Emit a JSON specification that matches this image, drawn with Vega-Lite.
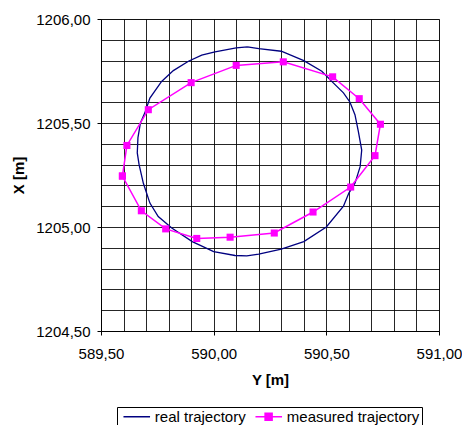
{
  "$schema": "https://vega.github.io/schema/vega-lite/v6.json",
  "width": 338,
  "height": 312,
  "autosize": {"type": "none"},
  "padding": {"left": 101, "top": 19, "right": 23, "bottom": 94},
  "background": "white",
  "config": {
    "font": "Liberation Sans",
    "view": {"stroke": "#808080", "strokeWidth": 1}
  },
  "data": {
    "values": [
      {"series": "measured trajectory", "order": 1, "Y": 589.595, "X": 1205.245},
      {"series": "measured trajectory", "order": 2, "Y": 589.615, "X": 1205.392},
      {"series": "measured trajectory", "order": 3, "Y": 589.71, "X": 1205.564},
      {"series": "measured trajectory", "order": 4, "Y": 589.9, "X": 1205.694},
      {"series": "measured trajectory", "order": 5, "Y": 590.1, "X": 1205.777},
      {"series": "measured trajectory", "order": 6, "Y": 590.309, "X": 1205.794},
      {"series": "measured trajectory", "order": 7, "Y": 590.528, "X": 1205.722},
      {"series": "measured trajectory", "order": 8, "Y": 590.646, "X": 1205.617},
      {"series": "measured trajectory", "order": 9, "Y": 590.74, "X": 1205.494},
      {"series": "measured trajectory", "order": 10, "Y": 590.716, "X": 1205.343},
      {"series": "measured trajectory", "order": 11, "Y": 590.608, "X": 1205.192},
      {"series": "measured trajectory", "order": 12, "Y": 590.441, "X": 1205.072},
      {"series": "measured trajectory", "order": 13, "Y": 590.269, "X": 1204.971},
      {"series": "measured trajectory", "order": 14, "Y": 590.073, "X": 1204.951},
      {"series": "measured trajectory", "order": 15, "Y": 589.925, "X": 1204.945},
      {"series": "measured trajectory", "order": 16, "Y": 589.787, "X": 1204.991},
      {"series": "measured trajectory", "order": 17, "Y": 589.679, "X": 1205.078},
      {"series": "measured trajectory", "order": 18, "Y": 589.595, "X": 1205.245},
      {"series": "real trajectory", "order": 1, "Y": 590.15, "X": 1205.866},
      {"series": "real trajectory", "order": 2, "Y": 590.2, "X": 1205.858},
      {"series": "real trajectory", "order": 3, "Y": 590.3, "X": 1205.845},
      {"series": "real trajectory", "order": 4, "Y": 590.4, "X": 1205.8},
      {"series": "real trajectory", "order": 5, "Y": 590.48, "X": 1205.749},
      {"series": "real trajectory", "order": 6, "Y": 590.524, "X": 1205.7},
      {"series": "real trajectory", "order": 7, "Y": 590.576, "X": 1205.645},
      {"series": "real trajectory", "order": 8, "Y": 590.605, "X": 1205.6},
      {"series": "real trajectory", "order": 9, "Y": 590.627, "X": 1205.54},
      {"series": "real trajectory", "order": 10, "Y": 590.642, "X": 1205.46},
      {"series": "real trajectory", "order": 11, "Y": 590.657, "X": 1205.37},
      {"series": "real trajectory", "order": 12, "Y": 590.65, "X": 1205.29},
      {"series": "real trajectory", "order": 13, "Y": 590.627, "X": 1205.21},
      {"series": "real trajectory", "order": 14, "Y": 590.6, "X": 1205.163},
      {"series": "real trajectory", "order": 15, "Y": 590.576, "X": 1205.1},
      {"series": "real trajectory", "order": 16, "Y": 590.5, "X": 1205.0},
      {"series": "real trajectory", "order": 17, "Y": 590.4, "X": 1204.93},
      {"series": "real trajectory", "order": 18, "Y": 590.3, "X": 1204.894},
      {"series": "real trajectory", "order": 19, "Y": 590.2, "X": 1204.87},
      {"series": "real trajectory", "order": 20, "Y": 590.147, "X": 1204.861},
      {"series": "real trajectory", "order": 21, "Y": 590.095, "X": 1204.863},
      {"series": "real trajectory", "order": 22, "Y": 590.0, "X": 1204.882},
      {"series": "real trajectory", "order": 23, "Y": 589.905, "X": 1204.93},
      {"series": "real trajectory", "order": 24, "Y": 589.814, "X": 1204.995},
      {"series": "real trajectory", "order": 25, "Y": 589.754, "X": 1205.05},
      {"series": "real trajectory", "order": 26, "Y": 589.717, "X": 1205.115},
      {"series": "real trajectory", "order": 27, "Y": 589.688, "X": 1205.21},
      {"series": "real trajectory", "order": 28, "Y": 589.669, "X": 1205.3},
      {"series": "real trajectory", "order": 29, "Y": 589.661, "X": 1205.356},
      {"series": "real trajectory", "order": 30, "Y": 589.664, "X": 1205.43},
      {"series": "real trajectory", "order": 31, "Y": 589.675, "X": 1205.5},
      {"series": "real trajectory", "order": 32, "Y": 589.695, "X": 1205.55},
      {"series": "real trajectory", "order": 33, "Y": 589.717, "X": 1205.62},
      {"series": "real trajectory", "order": 34, "Y": 589.769, "X": 1205.7},
      {"series": "real trajectory", "order": 35, "Y": 589.821, "X": 1205.752},
      {"series": "real trajectory", "order": 36, "Y": 589.888, "X": 1205.797},
      {"series": "real trajectory", "order": 37, "Y": 589.947, "X": 1205.826},
      {"series": "real trajectory", "order": 38, "Y": 590.006, "X": 1205.842},
      {"series": "real trajectory", "order": 39, "Y": 590.1, "X": 1205.861},
      {"series": "real trajectory", "order": 40, "Y": 590.15, "X": 1205.866}
    ]
  },
  "encoding": {
    "x": {
      "field": "Y", "type": "quantitative",
      "scale": {"domain": [589.5, 591.0], "nice": false, "zero": false},
      "axis": {
        "title": "Y [m]",
        "values": [589.5, 589.6, 589.7, 589.8, 589.9, 590.0, 590.1, 590.2, 590.3, 590.4, 590.5, 590.6, 590.7, 590.8, 590.9, 591.0],
        "labelExpr": "round(datum.value*10) % 5 == 0 ? replace(format(datum.value, '.2f'), '.', ',') : ''",
        "labelOverlap": false,
        "labelFlush": false,
        "labelFontSize": 15,
        "labelColor": "#000000",
        "labelPadding": 11,
        "tickSize": 4,
        "tickColor": "#000000",
        "tickOpacity": {"condition": {"test": "round(datum.value*10) % 5 == 0", "value": 1}, "value": 0},
        "domainColor": "#000000",
        "grid": true,
        "gridColor": "#000000",
        "gridOpacity": 0.85,
        "titleFontSize": 15,
        "titleFontWeight": "bold",
        "titleColor": "#000000",
        "titlePadding": 11
      }
    },
    "y": {
      "field": "X", "type": "quantitative",
      "scale": {"domain": [1204.5, 1206.0], "nice": false, "zero": false},
      "axis": {
        "title": "X [m]",
        "values": [1204.5, 1204.6, 1204.7, 1204.8, 1204.9, 1205.0, 1205.1, 1205.2, 1205.3, 1205.4, 1205.5, 1205.6, 1205.7, 1205.8, 1205.9, 1206.0],
        "labelExpr": "round(datum.value*10) % 5 == 0 ? replace(format(datum.value, '.2f'), '.', ',') : ''",
        "labelOverlap": false,
        "labelFlush": false,
        "labelFontSize": 15,
        "labelColor": "#000000",
        "labelPadding": 7,
        "tickSize": 4,
        "tickColor": "#000000",
        "tickOpacity": {"condition": {"test": "round(datum.value*10) % 5 == 0", "value": 1}, "value": 0},
        "domainColor": "#000000",
        "grid": true,
        "gridColor": "#000000",
        "gridOpacity": 0.85,
        "titleFontSize": 15,
        "titleFontWeight": "bold",
        "titleColor": "#000000",
        "titlePadding": 9
      }
    }
  },
  "layer": [
    {
      "transform": [{"filter": "datum.series == 'real trajectory'"}],
      "mark": {"type": "line", "color": "#000080", "strokeWidth": 1.3},
      "encoding": {"order": {"field": "order", "type": "quantitative"}}
    },
    {
      "transform": [{"filter": "datum.series == 'measured trajectory'"}],
      "mark": {"type": "line", "color": "#FF00FF", "strokeWidth": 1.5},
      "encoding": {"order": {"field": "order", "type": "quantitative"}}
    },
    {
      "transform": [{"filter": "datum.series == 'measured trajectory'"}],
      "mark": {"type": "point", "shape": "square", "filled": true, "color": "#FF00FF", "size": 50, "opacity": 1}
    },
    {
      "mark": {"type": "point", "filled": false, "opacity": 0, "strokeWidth": 1.5},
      "encoding": {
        "color": {
          "field": "series", "type": "nominal",
          "scale": {"domain": ["real trajectory", "measured trajectory"], "range": ["#000080", "#FF00FF"]},
          "legend": {
            "title": null,
            "orient": "none",
            "legendX": 16,
            "legendY": 388,
            "direction": "horizontal",
            "strokeColor": "#000000",
            "padding": 2,
            "labelFontSize": 15,
            "labelColor": "#000000",
            "labelOffset": 20.8,
            "columnPadding": 5,
            "symbolSize": 182,
            "symbolStrokeWidth": 1.5,
            "symbolOpacity": 1
          }
        },
        "shape": {
          "field": "series", "type": "nominal",
          "scale": {"domain": ["real trajectory", "measured trajectory"], "range": ["M-0.45,0H3.49", "M-0.45,0H3.49M0.98,-0.52H2.02V0.52H0.98ZM1.2,-0.3H1.8V0.3H1.2ZM1.4,-0.1H1.6V0.1H1.4Z"]},
          "legend": null
        }
      }
    }
  ]
}
